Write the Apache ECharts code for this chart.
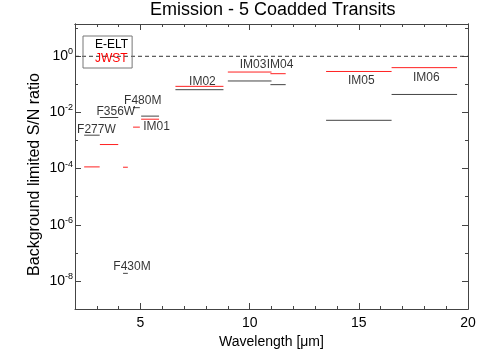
<!DOCTYPE html>
<html><head><meta charset="utf-8">
<script src="https://cdn.jsdelivr.net/npm/echarts@6/dist/echarts.min.js"></script>
<style>html,body{margin:0;padding:0;background:#fff}#c{width:491px;height:357px}</style>
</head><body><div id="c"></div>
<script>
// ---- data ----
const filters = ['F277W','F356W','F430M','F480M','IM01','IM02','IM03','IM04','IM05','IM06'];
const wlStart = [2.42, 3.14, 4.20, 4.66, 5.03, 6.60, 9.00, 10.95, 13.50, 16.50];
const wlEnd   = [3.13, 3.98, 4.42, 4.97, 5.85, 8.80, 11.00, 11.65, 16.50, 19.50];
const snEELT  = [1.55e-3, 6.6e-3, 1.86e-8, 1.48e-2, 7.4e-3, 6.46e-2, 1.32e-1, 9.77e-2, 5.25e-3, 4.37e-2];
const snJWST  = [1.15e-4, 7.2e-4, 1.12e-4, 3.0e-3, 5.75e-3, 8.5e-2, 2.75e-1, 2.4e-1, 2.88e-1, 3.94e-1];
const xMajorTicks = [5, 10, 15, 20];
const xMinorTicks = [3, 4, 6, 7, 8, 9, 11, 12, 13, 14, 16, 17, 18, 19];
const yMajorExp = [-8, -6, -4, -2, 0];
const yMinorExp = [-9, -7, -5, -3, -1, 1];
const refLevel = 1;

// ---- layout ----
const FONT = '"Liberation Sans", Arial, Helvetica, sans-serif';
const X_MIN = 2, X_MAX = 20, Y_MIN = -9, Y_MAX = 1.15;
const AX = '#444';
// label pixel offsets relative to the E-ELT segment midpoint
const labelOffsets = [[4.5,-5.7],[6.8,-5.6],[6.6,-6.6],[6.3,-7.3],[6.5,11],[3,-8.3],[3.3,-16.4],[2,-20],[2.4,-40],[2,-16.6]];

const lg = v => Math.log10(v);
const series = [];
filters.forEach((f, i) => {
  series.push({type:'line', name:'E-ELT', symbol:'none', silent:true, z:3,
    lineStyle:{color:'#444', width:1},
    data:[[wlStart[i], lg(snEELT[i])], [wlEnd[i], lg(snEELT[i])]]});
  series.push({type:'line', name:'JWST', symbol:'none', silent:true, z:3,
    lineStyle:{color:'#ff2020', width:1},
    data:[[wlStart[i], lg(snJWST[i])], [wlEnd[i], lg(snJWST[i])]]});
});
series.push({type:'line', symbol:'none', silent:true, z:2,
  lineStyle:{color:'#333', width:1, type:[4,3]},
  data:[[X_MIN, lg(refLevel)], [X_MAX, lg(refLevel)]]});
series.push({type:'scatter', symbolSize:0, silent:true, z:5,
  label:{show:true, position:'inside', formatter:'{b}', fontSize:12, color:'#000', fontFamily:FONT},
  data: filters.map((f, i) => ({name:f, value:[(wlStart[i]+wlEnd[i])/2, lg(snEELT[i])],
    label:{offset:labelOffsets[i]}}))});

function xAxis(pos, ticks, len, withLabels) {
  const a = {type:'value', min:X_MIN, max:X_MAX, position:pos, gridIndex:0,
    axisLine:{show:withLabels || pos==='top', onZero:false, lineStyle:{color:AX, width:1}},
    axisTick:{show:true, inside:true, length:len, customValues:ticks, lineStyle:{color:AX}},
    axisLabel:{show:false}, splitLine:{show:false}};
  if (withLabels) {
    a.axisLabel = {show:true, customValues:ticks, fontSize:14, lineHeight:8, color:'#000', margin:10,
      fontFamily:FONT};
    a.name = 'Wavelength [μm]';
    a.nameLocation = 'middle';
    a.nameGap = 16;
    a.nameTextStyle = {fontSize:14, lineHeight:14, color:'#000', fontFamily:FONT, padding:[-9,0,0,0]};
  }
  return a;
}
function yAxis(pos, ticks, len, withLabels) {
  const a = {type:'value', min:Y_MIN, max:Y_MAX, position:pos, gridIndex:0,
    axisLine:{show:true, onZero:false, lineStyle:{color:AX, width:1}},
    axisTick:{show:true, inside:true, length:len, customValues:ticks, lineStyle:{color:AX}},
    axisLabel:{show:false}, splitLine:{show:false}};
  if (withLabels && pos === 'left') {
    a.axisLabel = {show:true, customValues:ticks, margin:2, fontFamily:FONT, color:'#000',
      formatter: v => '{b|10}{s|' + Math.round(v) + '}',
      rich:{b:{fontSize:14, color:'#000', fontFamily:FONT},
            s:{fontSize:9, color:'#000', fontFamily:FONT, padding:[0,0,9,0]}}};
    a.name = 'Background limited S/N ratio';
    a.nameLocation = 'middle';
    a.nameGap = 32;
    a.nameMoveOverlap = false;
    a.nameTextStyle = {fontSize:16, color:'#000', fontFamily:FONT, padding:[0,16,0,0]};
  }
  return a;
}

const chart = echarts.init(document.getElementById('c'), null, {renderer:'canvas'});
chart.setOption({
  animation:false,
  backgroundColor:'#fff',
  title:{text:'Emission - 5 Coadded Transits', left:150, top:1, padding:0,
    textStyle:{fontSize:18, fontWeight:'normal', color:'#000', fontFamily:FONT}},
  legend:{orient:'vertical', left:83, top:36, icon:'none', itemWidth:3, itemHeight:10, itemGap:2,
    padding:[3,4,3,4], borderColor:'#777', borderWidth:1, selectedMode:false,
    textStyle:{fontSize:12, fontFamily:FONT},
    data:[{name:'E-ELT', textStyle:{color:'#000'}}, {name:'JWST', textStyle:{color:'#ff0000'}}]},
  grid:{left:75, right:23, top:24, bottom:48, containLabel:false, outerBoundsMode:'none'},
  xAxis:[xAxis('bottom', xMajorTicks, 6, true), xAxis('bottom', xMinorTicks, 3, false),
         xAxis('top', xMajorTicks, 6, false), xAxis('top', xMinorTicks, 3, false)],
  yAxis:[yAxis('left', yMajorExp, 6, true), yAxis('left', yMinorExp, 3, false),
         yAxis('right', yMajorExp, 6, false), yAxis('right', yMinorExp, 3, false)],
  series: series
});
</script></body></html>
